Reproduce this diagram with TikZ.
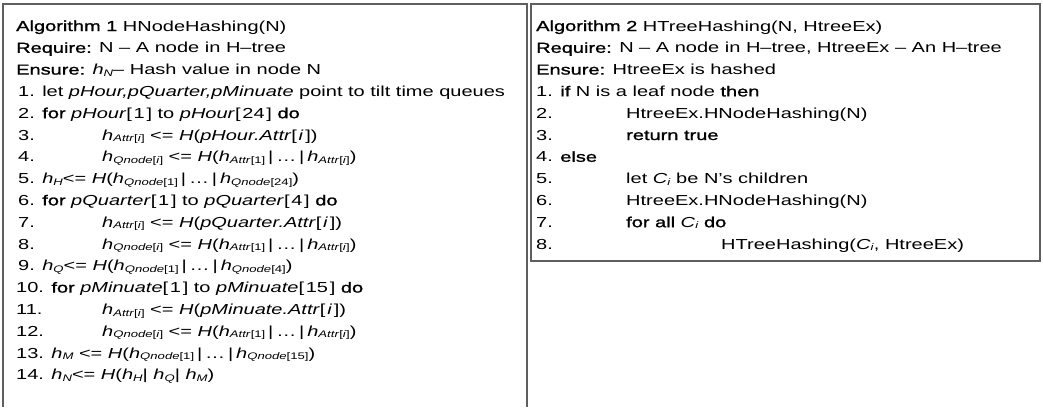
\documentclass[tikz,border=0pt]{standalone}
\usepackage{fontspec}
\setmainfont[FakeStretch=1.38]{Liberation Sans}
\newfontfamily\kwfont[FakeStretch=1.38,FakeBold=1.3]{Liberation Sans}
\definecolor{framegray}{RGB}{95,95,95}
% keyword, subscript and hash helpers
\newcommand\kw[1]{{\kwfont #1}}
\newcommand\sbx[1]{\raisebox{-0.12em}{\fontsize{9.5}{10}\selectfont #1}}
\newcommand\hx[1]{\textit{h}\sbx{#1}}
\newcommand\vbarsep{\kern.2em|\kern.2em}
\newcommand\assign{ <= }
\newcommand\idx[1]{[\kern.12em#1\kern.12em]}
\begin{document}
\begin{tikzpicture}[x=1pt,y=-1pt,
  txt/.style={anchor=base west,inner sep=0pt,font=\fontsize{14.5}{16}\selectfont},
  frame/.style={draw=framegray,line width=2pt}]
\useasboundingbox (0,0) rectangle (1043,407);
% frames
\draw[frame] (3,407) -- (3,3.5) -- (527,3.5) -- (527,407);
\draw[frame] (531,3.5) rectangle (1040,261);
% Algorithm 1
\node[txt] (a0) at (16,31.0) {\kw{Algorithm 1} HNodeHashing(N)};
\node[txt] (a1) at (16,52.8) {\kw{Require:} N -- A node in H--tree};
\node[txt] (a2) at (16,74.6) {\kw{Ensure:} \textit{h}\sbx{\textit{N}}-- Hash value in node N};
\node[txt] (a3) at (18,96.4) {1. let \textit{pHour,pQuarter,pMinuate} point to tilt time queues};
\node[txt] (a4) at (18,118.2) {2. \kw{for} \textit{pHour}\idx{1} to \textit{pHour}\idx{24} \kw{do}};
\node[txt] (a5n) at (18,140.0) {3.};
\node[txt] (a5) at (102,140.0) {\hx{\textit{Attr}[\textit{i}]}\assign\textit{H}(\textit{pHour.Attr}\idx{\textit{i}})};
\node[txt] (a6n) at (18,161.8) {4.};
\node[txt] (a6) at (102,161.8) {\hx{\textit{Qnode}[\textit{i}]}\assign\textit{H}(\hx{\textit{Attr}[1]}\vbarsep\ldots\vbarsep\hx{\textit{Attr}[\textit{i}]})};
\node[txt] (a7) at (18,183.6) {5. \hx{\textit{H}}<= \textit{H}(\hx{\textit{Qnode}[1]}\vbarsep\ldots\vbarsep\hx{\textit{Qnode}[24]})};
\node[txt] (a8) at (18,205.4) {6. \kw{for} \textit{pQuarter}\idx{1} to \textit{pQuarter}\idx{4} \kw{do}};
\node[txt] (a9n) at (18,227.2) {7.};
\node[txt] (a9) at (102,227.2) {\hx{\textit{Attr}[\textit{i}]}\assign\textit{H}(\textit{pQuarter.Attr}\idx{\textit{i}})};
\node[txt] (a10n) at (18,249.0) {8.};
\node[txt] (a10) at (102,249.0) {\hx{\textit{Qnode}[\textit{i}]}\assign\textit{H}(\hx{\textit{Attr}[1]}\vbarsep\ldots\vbarsep\hx{\textit{Attr}[\textit{i}]})};
\node[txt] (a11) at (18,270.8) {9. \hx{\textit{Q}}<= \textit{H}(\hx{\textit{Qnode}[1]}\vbarsep\ldots\vbarsep\hx{\textit{Qnode}[4]})};
\node[txt] (a12) at (16,292.6) {10. \kw{for} \textit{pMinuate}\idx{1} to \textit{pMinuate}\idx{15} \kw{do}};
\node[txt] (a13n) at (16,314.4) {11.};
\node[txt] (a13) at (102,314.4) {\hx{\textit{Attr}[\textit{i}]}\assign\textit{H}(\textit{pMinuate.Attr}\idx{\textit{i}})};
\node[txt] (a14n) at (16,336.2) {12.};
\node[txt] (a14) at (102,336.2) {\hx{\textit{Qnode}[\textit{i}]}\assign\textit{H}(\hx{\textit{Attr}[1]}\vbarsep\ldots\vbarsep\hx{\textit{Attr}[\textit{i}]})};
\node[txt] (a15) at (16,358.0) {13. \hx{\textit{M}}\assign\textit{H}(\hx{\textit{Qnode}[1]}\vbarsep\ldots\vbarsep\hx{\textit{Qnode}[15]})};
\node[txt] (a16) at (16,379.8) {14. \hx{\textit{N}}<= \textit{H}(\hx{\textit{H}}| \hx{\textit{Q}}| \hx{\textit{M}})};
% Algorithm 2
\node[txt] (b0) at (536,31.0) {\kw{Algorithm 2} HTreeHashing(N, HtreeEx)};
\node[txt] (b1) at (536,52.8) {\kw{Require:} N -- A node in H--tree, HtreeEx -- An H--tree};
\node[txt] (b2) at (536,74.6) {\kw{Ensure:} HtreeEx is hashed};
\node[txt] (b3) at (536,96.4) {1. \kw{if} N is a leaf node \kw{then}};
\node[txt] (b4n) at (536,118.2) {2.};
\node[txt] (b4) at (626,118.2) {HtreeEx.HNodeHashing(N)};
\node[txt] (b5n) at (536,140.0) {3.};
\node[txt] (b5) at (626,140.0) {\kw{return true}};
\node[txt] (b6) at (536,161.8) {4. \kw{else}};
\node[txt] (b7n) at (536,183.6) {5.};
\node[txt] (b7) at (626,183.6) {let \textit{C}\sbx{\textit{i}} be N's children};
\node[txt] (b8n) at (536,205.4) {6.};
\node[txt] (b8) at (626,205.4) {HtreeEx.HNodeHashing(N)};
\node[txt] (b9n) at (536,227.2) {7.};
\node[txt] (b9) at (626,227.2) {\kw{for all} \textit{C}\sbx{\textit{i}} \kw{do}};
\node[txt] (b10n) at (536,249.0) {8.};
\node[txt] (b10) at (721,249.0) {HTreeHashing(\textit{C}\sbx{\textit{i}}, HtreeEx)};
\end{tikzpicture}
\end{document}
